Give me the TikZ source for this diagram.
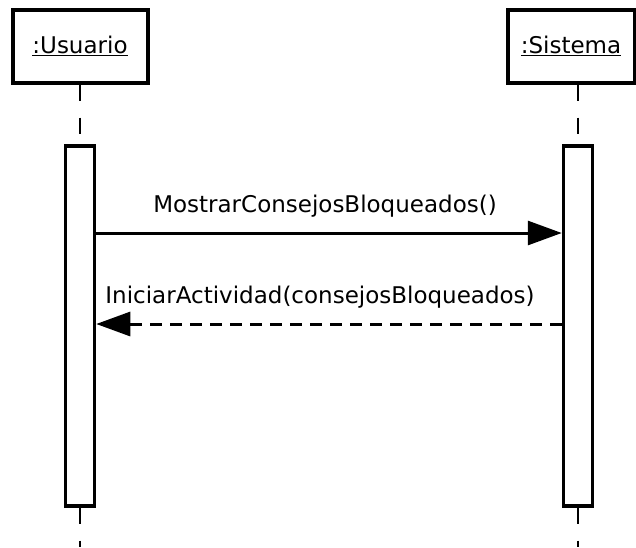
\documentclass[tikz,border=0pt]{standalone}
\usepackage{fontspec}
\setmainfont{DejaVu Sans}
\usetikzlibrary{arrows.meta}
\begin{document}
\begin{tikzpicture}[x=1pt,y=-1pt,
  objbox/.style={draw,line width=4pt,minimum width=135pt,minimum height=73pt,inner sep=0pt,font=\fontsize{23}{27}\selectfont},
  actbox/.style={draw,line width=3.5pt,fill=white,minimum width=29pt,minimum height=360pt,inner sep=0pt},
  lifeline/.style={line width=2.5pt,dash pattern=on 16pt off 17pt},
  msglabel/.style={font=\fontsize{23}{27}\selectfont,inner sep=0pt},
  call/.style={line width=3pt,-{Triangle[length=34pt,width=24pt]}},
  reply/.style={line width=3pt,dash pattern=on 12pt off 8pt,-{Triangle[length=34pt,width=24pt]}}]
\useasboundingbox (0,0) rectangle (636,547);
% object heads
\node[objbox] (usr) at (80,46) {\underline{:Usuario}};
\node[objbox,minimum width=127pt] (sys) at (571,46) {\underline{:Sistema}};
% activations
\node[actbox,anchor=north] (usrAct) at (80,144) {};
\node[actbox,anchor=north] (sysAct) at (578,144) {};
% lifelines, above and below each activation
\coordinate (usrEnd) at (80,547);
\coordinate (sysEnd) at (578,547);
\draw[lifeline] (usr.south) -- (usrAct.north);
\draw[lifeline] (sys.south -| sysEnd) -- (sysAct.north);
\draw[lifeline] (usrAct.south) -- (usrEnd);
\draw[lifeline] (sysAct.south) -- (sysEnd);
% messages
\coordinate (m1a) at (usrAct.east |- 0,233);
\coordinate (m1b) at (sysAct.west |- 0,233);
\draw[call] (m1a) -- (m1b);
\node[msglabel] (l1) at (325,206) {MostrarConsejosBloqueados()};
\coordinate (m2a) at (sysAct.west |- 0,324);
\coordinate (m2b) at (usrAct.east |- 0,324);
\draw[reply] (m2a) -- (m2b);
\node[msglabel] (l2) at (320,297) {IniciarActividad(consejosBloqueados)};
\end{tikzpicture}
\end{document}
